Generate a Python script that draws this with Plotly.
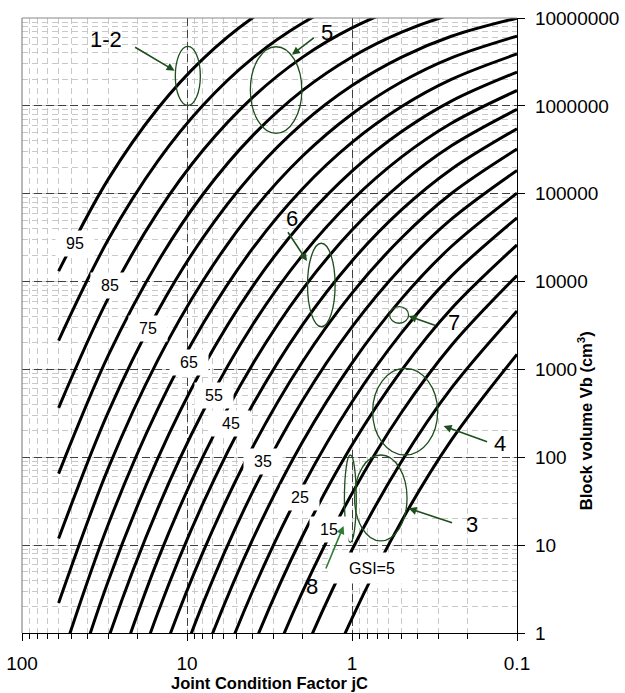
import plotly.graph_objects as go

# ---------------- data ----------------
# Joint condition factor values at which each GSI contour was read
jc_values = [60, 30, 15, 8, 4, 2, 1, 0.5, 0.25, 0.1]

# log10 of block volume Vb (cm3) along each GSI contour (None = outside the drawn range)
logvb_gsi95 = [4.119, 5.166, 5.973, 6.535, 7.003, 7.340, 7.573, 7.724, 7.809, 7.845]
logvb_gsi90 = [3.329, 4.478, 5.374, 6.007, 6.543, 6.940, 7.225, 7.421, 7.545, 7.626]
logvb_gsi85 = [2.563, 3.811, 4.793, 5.495, 6.097, 6.552, 6.887, 7.127, 7.289, 7.413]
logvb_gsi80 = [1.814, 3.159, 4.226, 4.994, 5.661, 6.173, 6.557, 6.839, 7.039, 7.204]
logvb_gsi75 = [1.075, 2.515, 3.666, 4.501, 5.231, 5.798, 6.231, 6.555, 6.792, 6.999]
logvb_gsi70 = [0.341, 1.876, 3.109, 4.010, 4.804, 5.426, 5.908, 6.274, 6.547, 6.794]
logvb_gsi65 = [-0.394, 1.237, 2.553, 3.519, 4.377, 5.054, 5.584, 5.992, 6.301, 6.590]
logvb_gsi60 = [-1.134, 0.592, 1.991, 3.024, 3.946, 4.679, 5.257, 5.707, 6.054, 6.384]
logvb_gsi55 = [-1.887, -0.063, 1.421, 2.521, 3.509, 4.298, 4.925, 5.419, 5.802, 6.175]
logvb_gsi50 = [None, -0.733, 0.838, 2.007, 3.060, 3.908, 4.586, 5.123, 5.545, 5.960]
logvb_gsi45 = [None, -1.426, 0.234, 1.475, 2.597, 3.505, 4.235, 4.818, 5.279, 5.739]
logvb_gsi40 = [None, -2.148, -0.394, 0.921, 2.115, 3.085, 3.869, 4.499, 5.002, 5.508]
logvb_gsi35 = [None, None, -1.056, 0.337, 1.607, 2.643, 3.484, 4.164, 4.710, 5.265]
logvb_gsi30 = [None, None, -1.762, -0.286, 1.065, 2.171, 3.073, 3.806, 4.399, 5.006]
logvb_gsi25 = [None, None, -2.526, -0.959, 0.478, 1.660, 2.629, 3.419, 4.062, 4.726]
logvb_gsi20 = [None, None, None, -1.701, -0.168, 1.098, 2.139, 2.993, 3.691, 4.417]
logvb_gsi15 = [None, None, None, -2.538, -0.896, 0.464, 1.588, 2.513, 3.273, 4.069]
logvb_gsi10 = [None, None, None, None, -1.742, -0.272, 0.947, 1.955, 2.787, 3.664]
logvb_gsi5 = [None, None, None, None, -2.770, -1.168, 0.167, 1.276, 2.196, 3.172]

gsi_levels = [95, 90, 85, 80, 75, 70, 65, 60, 55, 50, 45, 40, 35, 30, 25, 20, 15, 10, 5]
gsi_curves = [logvb_gsi95, logvb_gsi90, logvb_gsi85, logvb_gsi80, logvb_gsi75,
              logvb_gsi70, logvb_gsi65, logvb_gsi60, logvb_gsi55, logvb_gsi50,
              logvb_gsi45, logvb_gsi40, logvb_gsi35, logvb_gsi30, logvb_gsi25,
              logvb_gsi20, logvb_gsi15, logvb_gsi10, logvb_gsi5]

# contour labels (positions in log10 axis units)
contour_label_text = ["95", "85", "75", "65", "55", "45", "35", "25", "15", "GSI=5"]
contour_label_logx = [1.677, 1.465, 1.236, 0.990, 0.839, 0.733, 0.539, 0.318, 0.142, -0.123]
contour_label_logy = [4.439, 3.961, 3.468, 3.081, 2.709, 2.379, 1.950, 1.545, 1.180, 0.740]

# axis tick values / labels
x_tick_vals = [100, 10, 1, 0.1]
x_tick_text = ["100", "10", "1", "0.1"]
y_tick_vals = [1, 10, 100, 1000, 10000, 100000, 1000000, 10000000]
y_tick_text = ["1", "10", "100", "1000", "10000", "100000", "1000000", "10000000"]

# case ellipses (centre in log10 units, half sizes in decades)
case_names = ["1-2", "5", "6", "7", "4", "3", "8"]
case_logx = [0.995, 0.460, 0.186, -0.2855, -0.322, -0.1745, 0.010]
case_logy = [6.340, 6.180, 3.961, 3.620, 2.519, 1.537, 1.529]
case_halfw = [0.0758, 0.156, 0.0836, 0.0576, 0.197, 0.159, 0.036]
case_halfh = [0.336, 0.493, 0.475, 0.0945, 0.493, 0.489, 0.497]
# arrow heads (log10 units) and tail offsets (px)
arrow_head_logx = [1.075, 0.364, 0.273, -0.343, -0.555, -0.343, 0.051]
arrow_head_logy = [6.400, 6.582, 4.234, 3.608, 2.356, 1.419, 1.218]
arrow_tail_dx = [-41, 23.3, -20, 28.4, 45, 45, -18.3]
arrow_tail_dy = [-24.4, -18, -30.3, 10, 16.3, 15, 44]
# case number label positions (log10 units)
case_label_logx = [1.489, 0.152, 0.364, -0.616, -0.899, -0.727, 0.242]
case_label_logy = [6.750, 6.837, 4.720, 3.537, 2.159, 1.237, 0.527]

x_log_range = [2, -1]
y_log_range = [0, 7]

FONT = "Liberation Sans, Arial, sans-serif"
GREEN = "#1c4f1c"

fig = go.Figure()

for g, logs in zip(gsi_levels, gsi_curves):
    xs, ys = [], []
    for jc, lv in zip(jc_values, logs):
        if lv is None:
            continue
        xs.append(jc)
        ys.append(10 ** lv)
    fig.add_trace(go.Scatter(
        x=xs, y=ys, mode="lines", name=f"GSI={g}",
        line=dict(color="black", width=3, shape="spline", smoothing=1.0),
        hoverinfo="skip", showlegend=False))

annotations = []
for t, lx, ly in zip(contour_label_text, contour_label_logx, contour_label_logy):
    wide = len(t) > 2
    annotations.append(dict(
        x=lx, y=ly, xref="x", yref="y", text=t, showarrow=False,
        font=dict(family=FONT, size=16, color="black"),
        bgcolor="white", width=80 if wide else 36, height=28 if wide else 23,
        align="center", valign="middle", xanchor="center", yanchor="middle"))

shapes = []
x_span = x_log_range[0] - x_log_range[1]
y_span = y_log_range[1] - y_log_range[0]
for i, name in enumerate(case_names):
    cx = (x_log_range[0] - case_logx[i]) / x_span
    cy = (case_logy[i] - y_log_range[0]) / y_span
    hw = case_halfw[i] / x_span
    hh = case_halfh[i] / y_span
    shapes.append(dict(type="circle", xref="paper", yref="paper",
                       x0=cx - hw, x1=cx + hw, y0=cy - hh, y1=cy + hh,
                       line=dict(color=GREEN, width=1.3), layer="above"))
    annotations.append(dict(
        x=arrow_head_logx[i], y=arrow_head_logy[i], xref="x", yref="y",
        text="", showarrow=True, ax=arrow_tail_dx[i], ay=arrow_tail_dy[i],
        arrowhead=2, arrowsize=1.0, arrowwidth=1.6,
        arrowcolor=GREEN if name != "8" else "#2e7d32",
        standoff=0, startstandoff=0))
    annotations.append(dict(
        x=case_label_logx[i], y=case_label_logy[i], xref="x", yref="y",
        text=name, showarrow=False,
        font=dict(family=FONT, size=22, color="black"),
        xanchor="center", yanchor="middle"))

# border lines top and left (grey)
shapes.append(dict(type="line", xref="paper", yref="paper", x0=0, x1=1, y0=1, y1=1,
                   line=dict(color="#888888", width=1.2), layer="above"))
shapes.append(dict(type="line", xref="paper", yref="paper", x0=0, x1=0, y0=0, y1=1,
                   line=dict(color="#888888", width=1.2), layer="above"))

# y-axis title as annotation (offset as in the original)
annotations.append(dict(
    x=1.138, y=0.345, xref="paper", yref="paper",
    text="<b>Block volume Vb (cm<sup>3</sup>)</b>", textangle=-90, showarrow=False,
    font=dict(family=FONT, size=16.5, color="black"),
    xanchor="center", yanchor="middle"))

fig.update_layout(
    width=625, height=693,
    margin=dict(l=22, r=108, t=18, b=60, autoexpand=False),
    plot_bgcolor="white", paper_bgcolor="white",
    font=dict(family=FONT, color="black"),
    showlegend=False,
    shapes=shapes, annotations=annotations,
)

fig.update_xaxes(
    type="log", range=x_log_range, automargin=False,
    tickmode="array", tickvals=x_tick_vals, ticktext=x_tick_text,
    showline=True, linecolor="black", linewidth=1.2,
    ticks="outside", ticklen=7, tickcolor="black", ticklabelstandoff=6,
    tickfont=dict(family=FONT, size=19, color="black"),
    showgrid=True, gridcolor="#404040", griddash="8px,4px", gridwidth=1,
    zeroline=False,
    minor=dict(dtick="D1", ticks="outside", ticklen=5, tickcolor="black",
               showgrid=True, gridcolor="#c8c8c8", griddash="6px,4px", gridwidth=1),
    title=dict(text="<b>Joint Condition Factor jC</b>",
               font=dict(family=FONT, size=16.5, color="black"), standoff=0),
)
fig.update_yaxes(
    type="log", range=y_log_range, automargin=False, side="right",
    tickmode="array", tickvals=y_tick_vals, ticktext=y_tick_text,
    showline=True, linecolor="black", linewidth=1.2,
    ticks="outside", ticklen=7, tickcolor="black", ticklabelstandoff=6,
    tickfont=dict(family=FONT, size=19, color="black"),
    showgrid=True, gridcolor="#404040", griddash="8px,4px", gridwidth=1,
    zeroline=False,
    minor=dict(dtick="D1", showgrid=True, gridcolor="#c8c8c8", griddash="6px,4px", gridwidth=1),
)

fig.write_html("out.html")
